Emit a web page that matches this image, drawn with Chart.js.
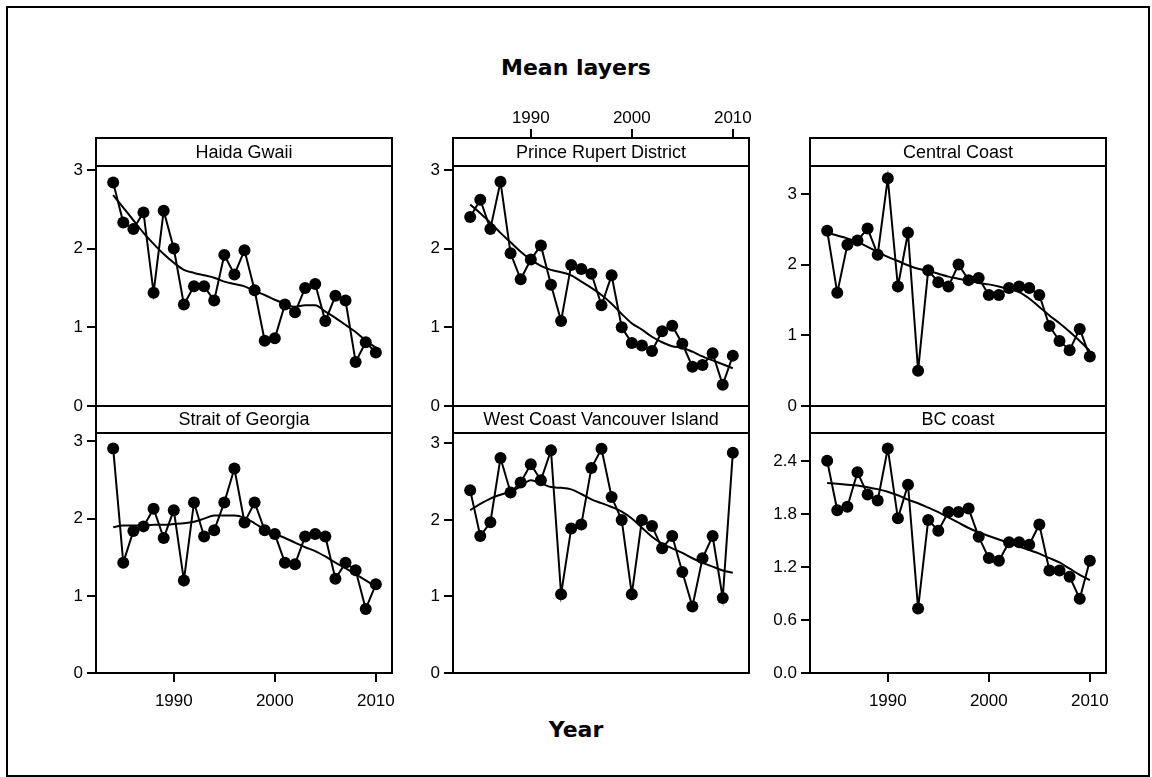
<!DOCTYPE html>
<html>
<head>
<meta charset="utf-8">
<title>Mean layers</title>
<script src="https://cdn.jsdelivr.net/npm/chart.js@4.4.1/dist/chart.umd.min.js"></script>
<style>
  html, body { margin: 0; padding: 0; background: #fff; }
  #page { position: relative; width: 1152px; height: 777px; overflow: hidden; }
  #frame { position: absolute; left: 6px; top: 6px; width: 1144px; height: 771px; box-sizing: border-box; border: 2px solid #000; }
  .big-label { position: absolute; left: 0; width: 1152px; text-align: center; line-height: 1;
               font-family: 'DejaVu Sans', sans-serif; font-weight: bold; font-size: 22px; color: #000; }
  canvas { position: absolute; }
</style>
</head>
<body>
<div id="page">
  <div id="frame"></div>
  <div class="big-label" style="top:57px;">Mean layers</div>
  <div class="big-label" style="top:719px;">Year</div>
</div>
<script>
// Years shared by every region
const years = [1984, 1985, 1986, 1987, 1988, 1989, 1990, 1991, 1992, 1993, 1994, 1995, 1996, 1997,
               1998, 1999, 2000, 2001, 2002, 2003, 2004, 2005, 2006, 2007, 2008, 2009, 2010];

const xTicks = [1990, 2000, 2010];
const yTicksMain = [0, 1, 2, 3];
const yTicksBC = [0, 0.6, 1.2, 1.8, 2.4];

const regionNames = ['Haida Gwaii', 'Prince Rupert District', 'Central Coast',
                     'Strait of Georgia', 'West Coast Vancouver Island', 'BC coast'];

// Observed mean layers
const haidaGwaii = [2.84, 2.33, 2.25, 2.46, 1.44, 2.48, 2.00, 1.29, 1.52, 1.52, 1.34, 1.92, 1.67, 1.98,
                    1.47, 0.83, 0.86, 1.29, 1.19, 1.50, 1.55, 1.08, 1.40, 1.34, 0.56, 0.81, 0.68];
const princeRupert = [2.40, 2.62, 2.25, 2.85, 1.94, 1.61, 1.86, 2.04, 1.54, 1.08, 1.79, 1.74, 1.68, 1.28,
                      1.66, 1.00, 0.80, 0.77, 0.70, 0.95, 1.02, 0.79, 0.50, 0.52, 0.67, 0.27, 0.64];
const centralCoast = [2.48, 1.60, 2.28, 2.34, 2.51, 2.14, 3.22, 1.69, 2.45, 0.50, 1.92, 1.75, 1.69, 2.00,
                      1.78, 1.81, 1.57, 1.57, 1.67, 1.69, 1.67, 1.57, 1.13, 0.92, 0.79, 1.09, 0.70];
const straitGeorgia = [2.91, 1.43, 1.84, 1.90, 2.13, 1.75, 2.11, 1.20, 2.21, 1.77, 1.85, 2.21, 2.65, 1.95,
                       2.21, 1.85, 1.80, 1.43, 1.41, 1.77, 1.80, 1.77, 1.22, 1.43, 1.33, 0.83, 1.15];
const westCoastVI = [2.39, 1.79, 1.97, 2.81, 2.36, 2.49, 2.73, 2.52, 2.91, 1.03, 1.89, 1.94, 2.68, 2.93,
                     2.30, 2.00, 1.03, 2.00, 1.92, 1.63, 1.79, 1.32, 0.87, 1.50, 1.79, 0.98, 2.88];
const bcCoast = [2.40, 1.84, 1.88, 2.27, 2.02, 1.95, 2.54, 1.75, 2.13, 0.73, 1.73, 1.61, 1.82, 1.82,
                 1.86, 1.54, 1.30, 1.27, 1.48, 1.48, 1.45, 1.68, 1.16, 1.16, 1.09, 0.84, 1.27];

// Smoothed trend lines
const haidaGwaiiSmooth = [2.68, 2.52, 2.36, 2.20, 2.06, 1.93, 1.82, 1.73, 1.69, 1.66, 1.63, 1.58, 1.55, 1.52,
                          1.46, 1.41, 1.35, 1.30, 1.26, 1.28, 1.28, 1.20, 1.12, 1.03, 0.94, 0.83, 0.74];
const princeRupertSmooth = [2.56, 2.45, 2.33, 2.20, 2.08, 1.96, 1.86, 1.78, 1.73, 1.70, 1.66, 1.58, 1.50, 1.41,
                            1.30, 1.17, 1.05, 0.97, 0.88, 0.81, 0.76, 0.74, 0.69, 0.63, 0.58, 0.53, 0.48];
const centralCoastSmooth = [2.45, 2.41, 2.37, 2.32, 2.25, 2.18, 2.11, 2.05, 1.99, 1.94, 1.91, 1.87, 1.83, 1.80,
                            1.77, 1.74, 1.72, 1.69, 1.65, 1.61, 1.52, 1.40, 1.28, 1.17, 1.05, 0.92, 0.78];
const straitGeorgiaSmooth = [1.89, 1.91, 1.91, 1.91, 1.92, 1.92, 1.93, 1.94, 1.96, 2.00, 2.04, 2.04, 2.04, 2.01,
                             1.94, 1.86, 1.80, 1.75, 1.69, 1.63, 1.58, 1.51, 1.43, 1.36, 1.28, 1.20, 1.12];
const westCoastVISmooth = [2.13, 2.21, 2.28, 2.33, 2.37, 2.44, 2.52, 2.48, 2.43, 2.42, 2.40, 2.34, 2.27, 2.22,
                           2.17, 2.11, 2.02, 1.90, 1.78, 1.69, 1.63, 1.57, 1.50, 1.44, 1.39, 1.34, 1.31];
const bcCoastSmooth = [2.15, 2.14, 2.13, 2.12, 2.10, 2.08, 2.05, 2.01, 1.96, 1.92, 1.87, 1.82, 1.76, 1.70,
                       1.64, 1.59, 1.55, 1.51, 1.47, 1.43, 1.39, 1.35, 1.30, 1.25, 1.18, 1.11, 1.05];

const observed = [haidaGwaii, princeRupert, centralCoast, straitGeorgia, westCoastVI, bcCoast];
const smoothed = [haidaGwaiiSmooth, princeRupertSmooth, centralCoastSmooth,
                  straitGeorgiaSmooth, westCoastVISmooth, bcCoastSmooth];

// panel placement on the page (chart area incl. strip)
const panels = [
    { left: 96,  top: 138, height: 268, strip: 28, yMax: 3.405, xAxis: 'none',   yTicks: yTicksMain },
    { left: 453, top: 138, height: 268, strip: 28, yMax: 3.405, xAxis: 'top',    yTicks: yTicksMain },
    { left: 810, top: 138, height: 268, strip: 28, yMax: 3.79,  xAxis: 'none',   yTicks: yTicksMain },
    { left: 96,  top: 406, height: 267, strip: 27, yMax: 3.46,  xAxis: 'bottom', yTicks: yTicksMain },
    { left: 453, top: 406, height: 267, strip: 27, yMax: 3.49,  xAxis: 'none',   yTicks: yTicksMain },
    { left: 810, top: 406, height: 267, strip: 27, yMax: 3.02,  xAxis: 'bottom', yTicks: yTicksBC }
];
const PANEL_W = 296, AXIS_W = 60, TOP_SPACE = 40, BOTTOM_SPACE = 45, RIGHT_SPACE = 30;

Chart.defaults.font.family = "'Liberation Sans', Arial, sans-serif";
Chart.defaults.color = '#000';

// Draws the panel box and the strip header with the region name
const stripPlugin = {
    id: 'strip',
    afterDraw(chart, args, opts) {
        const { ctx, chartArea: a } = chart;
        ctx.save();
        ctx.fillStyle = '#fff';
        ctx.fillRect(a.left, a.top, a.right - a.left, opts.height);
        ctx.strokeStyle = '#000';
        ctx.lineWidth = 2;
        ctx.strokeRect(a.left, a.top, a.right - a.left, a.bottom - a.top);
        ctx.beginPath();
        ctx.moveTo(a.left, a.top + opts.height);
        ctx.lineTo(a.right, a.top + opts.height);
        ctx.stroke();
        ctx.fillStyle = '#000';
        ctx.font = "18px 'Liberation Sans', Arial, sans-serif";
        ctx.textAlign = 'center';
        ctx.textBaseline = 'middle';
        ctx.fillText(opts.text, (a.left + a.right) / 2, a.top + opts.height / 2 + 1);
        ctx.restore();
    }
};

const page = document.getElementById('page');

panels.forEach((p, i) => {
    const canvas = document.createElement('canvas');
    const w = AXIS_W + PANEL_W + RIGHT_SPACE;
    const h = TOP_SPACE + p.height + BOTTOM_SPACE;
    canvas.width = w;
    canvas.height = h;
    canvas.style.left = (p.left - AXIS_W) + 'px';
    canvas.style.top = (p.top - TOP_SPACE) + 'px';
    canvas.style.width = w + 'px';
    canvas.style.height = h + 'px';
    page.appendChild(canvas);

    const isBC = p.yTicks === yTicksBC;

    new Chart(canvas, {
        type: 'line',
        data: {
            datasets: [{
                data: years.map((yr, k) => ({ x: yr, y: observed[i][k] })),
                borderColor: '#000',
                borderWidth: 2,
                pointRadius: 6,
                pointBackgroundColor: '#000',
                pointBorderColor: '#000',
                pointBorderWidth: 0,
                tension: 0
            }, {
                data: years.map((yr, k) => ({ x: yr, y: smoothed[i][k] })),
                borderColor: '#000',
                borderWidth: 2,
                pointRadius: 0,
                cubicInterpolationMode: 'monotone'
            }]
        },
        options: {
            responsive: false,
            animation: false,
            devicePixelRatio: 1,
            layout: {
                padding: {
                    left: 0,
                    right: RIGHT_SPACE,
                    top: p.xAxis === 'top' ? 0 : TOP_SPACE,
                    bottom: p.xAxis === 'bottom' ? 0 : BOTTOM_SPACE
                }
            },
            plugins: {
                legend: { display: false },
                tooltip: { enabled: false },
                strip: { text: regionNames[i], height: p.strip }
            },
            scales: {
                x: {
                    type: 'linear',
                    min: 1982.3,
                    max: 2011.6,
                    display: p.xAxis !== 'none',
                    position: p.xAxis === 'top' ? 'top' : 'bottom',
                    afterBuildTicks: s => { s.ticks = xTicks.map(v => ({ value: v })); },
                    afterFit: s => {
                        s.paddingLeft = 0;
                        s.paddingRight = 0;
                        if (p.xAxis === 'top') s.height = TOP_SPACE;
                        if (p.xAxis === 'bottom') s.height = BOTTOM_SPACE;
                    },
                    grid: { drawOnChartArea: false, drawTicks: true, tickLength: 9, color: '#000', lineWidth: 2 },
                    border: { display: false },
                    ticks: {
                        color: '#000',
                        font: { size: 17 },
                        padding: p.xAxis === 'top' ? 0 : 9,
                        maxRotation: 0,
                        autoSkip: false,
                        callback: v => String(v)
                    }
                },
                y: {
                    min: 0,
                    max: p.yMax,
                    afterBuildTicks: s => { s.ticks = p.yTicks.map(v => ({ value: v })); },
                    afterFit: s => { s.width = AXIS_W; s.paddingTop = 0; s.paddingBottom = 0; },
                    grid: { drawOnChartArea: false, drawTicks: true, tickLength: 9, color: '#000', lineWidth: 2 },
                    border: { display: false },
                    ticks: {
                        color: '#000',
                        font: { size: 17 },
                        padding: 4,
                        autoSkip: false,
                        callback: v => isBC ? v.toFixed(1) : String(v)
                    }
                }
            }
        },
        plugins: [stripPlugin]
    });
});
</script>
</body>
</html>
